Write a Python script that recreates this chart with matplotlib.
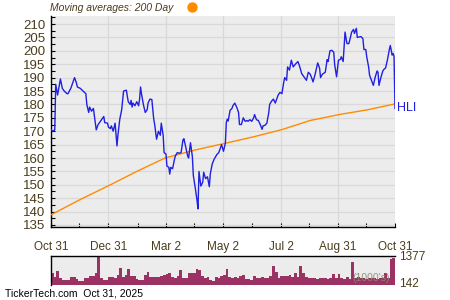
import matplotlib
matplotlib.use("Agg")
import matplotlib.pyplot as plt
import numpy as np
import pandas as pd
from matplotlib.lines import Line2D
from matplotlib.ticker import MultipleLocator

START = pd.Timestamp("2024-10-31")
END = pd.Timestamp("2025-10-31")

# closing price (days after 2024-10-31, price)
PRICE_DAY = [0, 2, 4, 5, 7, 10, 12, 14, 17, 18, 21, 23, 25, 27, 28, 31, 34, 37, 38, 40,
             41, 43, 45, 48, 50, 54, 56, 57, 60, 61, 63, 64, 66, 68, 70, 71, 73, 75, 76, 77,
             80, 81, 82, 84, 85, 86, 87, 89, 91, 93, 94, 95, 96, 98, 100, 102, 103, 105, 107, 109,
             110, 112, 114, 116, 117, 119, 120, 122, 123, 125, 126, 127, 129, 131, 132, 134, 136, 138, 140, 141,
             143, 145, 146, 148, 150, 151, 153, 155, 156, 157, 159, 161, 162, 164, 166, 168, 169, 171, 173, 175,
             176, 178, 179, 181, 183, 185, 186, 187, 188, 190, 192, 193, 195, 197, 199, 200, 202, 204, 206, 208,
             209, 211, 213, 215, 216, 218, 220, 222, 224, 225, 227, 229, 231, 232, 234, 236, 238, 239, 241, 243,
             245, 247, 248, 250, 251, 253, 255, 257, 260, 262, 264, 266, 268, 271, 273, 275, 277, 278, 280, 283,
             285, 286, 288, 291, 293, 294, 296, 298, 300, 301, 303, 305, 307, 308, 310, 312, 314, 316, 317, 319,
             321, 322, 324, 325, 327, 329, 331, 332, 334, 335, 337, 338, 340, 342, 344, 346, 347, 348, 350, 352,
             353, 355, 357, 359, 360, 362, 363, 364, 365]
PRICE = [170.5, 170.0, 170.5, 187.5, 183.5, 189.5, 186.0, 185.0, 184.0, 184.0, 186.0, 188.0, 190.0, 188.0, 186.5, 186.0, 185.0, 184.0, 180.0, 177.0,
         179.0, 177.5, 178.5, 170.5, 172.5, 174.5, 175.5, 173.2, 173.0, 171.5, 171.0, 172.0, 170.0, 173.0, 164.5, 168.5, 174.5, 178.0, 181.5, 185.0,
         185.3, 183.0, 181.0, 180.0, 181.5, 179.0, 180.5, 179.5, 181.0, 179.5, 182.0, 186.5, 184.0, 180.0, 177.0, 178.0, 180.5, 182.0, 181.8, 174.5,
         172.5, 167.0, 170.0, 168.5, 173.0, 168.5, 162.0, 161.5, 157.0, 156.5, 154.0, 156.5, 156.0, 159.5, 160.8, 162.0, 161.8, 162.0, 166.7, 167.2,
         164.0, 160.8, 160.0, 165.7, 160.5, 153.5, 149.0, 144.0, 141.0, 155.0, 149.5, 151.0, 154.7, 152.3, 153.0, 149.3, 154.0, 157.7, 159.5, 160.7,
         161.3, 162.0, 163.0, 165.0, 162.5, 165.5, 173.2, 174.5, 173.8, 177.8, 178.5, 179.5, 180.5, 179.0, 177.0, 172.5, 172.5, 175.0, 173.7, 174.0,
         173.7, 174.3, 173.7, 175.0, 176.2, 174.3, 174.0, 172.5, 170.7, 172.0, 172.2, 173.0, 176.8, 180.0, 181.2, 182.0, 180.5, 181.5, 183.5, 184.5,
         184.0, 188.4, 190.0, 189.0, 194.0, 192.8, 196.5, 194.0, 195.3, 196.0, 194.0, 191.5, 190.5, 189.0, 192.0, 191.3, 189.5, 188.4, 190.9, 195.5,
         193.5, 190.0, 191.3, 192.0, 196.7, 196.0, 200.0, 200.2, 199.5, 194.8, 190.3, 196.5, 196.8, 197.8, 196.0, 207.0, 202.7, 202.7, 204.0, 207.0,
         208.0, 206.5, 208.4, 205.0, 205.2, 205.3, 204.5, 200.5, 200.5, 197.8, 194.0, 190.9, 189.0, 187.1, 190.2, 192.5, 192.0, 187.1, 190.0, 192.4,
         193.0, 193.6, 196.7, 200.5, 202.0, 198.4, 199.0, 198.0, 178.5]

# 200-day moving average
MA_DAY = [0, 31, 63, 91, 121, 153, 185, 216, 245, 275, 307, 336, 365]
MA = [138.8, 144.5, 150.0, 155.0, 160.0, 163.0, 165.5, 168.0, 170.6, 174.0, 176.3, 178.0, 180.2]

# volume in thousands, two-session buckets across the year
VOLUME = [550, 390, 670, 310, 250, 235, 235, 390, 390, 280, 190, 190, 345, 345, 420, 420, 550, 1377, 345, 235,
          235, 390, 390, 310, 470, 810, 390, 470, 750, 440, 440, 280, 235, 235, 470, 600, 390, 390, 390, 390,
          420, 470, 500, 590, 390, 310, 440, 700, 310, 310, 590, 550, 550, 780, 700, 440, 310, 390, 235, 190,
          390, 310, 440, 470, 780, 390, 310, 390, 310, 440, 470, 280, 280, 235, 440, 310, 310, 390, 310, 310,
          440, 900, 625, 310, 440, 440, 440, 470, 400, 550, 400, 880, 570, 400, 350, 320, 350, 300, 350, 320,
          350, 300, 350, 500, 350, 520, 350, 300, 400, 300, 1085, 350, 400, 320, 350, 300, 350, 320, 350, 300,
          350, 320, 570, 350, 1215, 1300]

TICK_DATES = ["2024-10-31", "2024-12-31", "2025-03-02", "2025-05-02", "2025-07-02", "2025-08-31", "2025-10-31"]
TICK_LABELS = ["Oct 31", "Dec 31", "Mar 2", "May 2", "Jul 2", "Aug 31", "Oct 31"]
MINOR_DATES = ["2024-11-30", "2025-01-31", "2025-04-01", "2025-06-01", "2025-08-01", "2025-09-30"]

TXT = "#4a3c1c"
BG = "#ececec"
GRID = "#d9d9d9"
BLUE = "#2020e0"
ORANGE = "#ff8c00"

plt.rcParams["font.family"] = ["Liberation Sans", "DejaVu Sans"]

fig = plt.figure(figsize=(4.5, 3.0), dpi=100)
ax = fig.add_axes([51 / 450, 1 - 227 / 300, 344 / 450, 211 / 300])
ax.set_facecolor(BG)

pdates = START + pd.to_timedelta(PRICE_DAY, unit="D")
ma_dates = START + pd.to_timedelta(MA_DAY, unit="D")
ax.plot(ma_dates, MA, color=ORANGE, lw=1.0, zorder=3)
ax.plot(pdates, PRICE, color=BLUE, lw=1.0, zorder=4)
ax.set_xlim(START, END)
ax.set_ylim(134.25, 213)

ax.yaxis.set_major_locator(MultipleLocator(5))
ax.yaxis.set_minor_locator(MultipleLocator(2.5))
ax.set_xticks(pd.to_datetime(TICK_DATES))
ax.set_xticklabels(TICK_LABELS)
ax.set_xticks(pd.to_datetime(MINOR_DATES), minor=True)
ax.grid(True, which="major", color=GRID, lw=0.9, zorder=0)
ax.set_axisbelow(True)
ax.tick_params(axis="both", which="both", direction="in", colors="black",
               labelcolor=TXT, length=3, width=0.8)
ax.tick_params(axis="y", labelsize=9.5, pad=4)
ax.tick_params(axis="x", labelsize=8.5, pad=10)
for s in ["top", "right"]:
    ax.spines[s].set_visible(False)
for s in ["left", "bottom"]:
    ax.spines[s].set_color("black")
    ax.spines[s].set_linewidth(1.0)

ax.text(1.005, 178.7, "HLI", transform=ax.get_yaxis_transform(), color=BLUE,
        fontsize=9, va="center", ha="left")

fig.text(50 / 450, 1 - 8 / 300, "Moving averages: 200 Day", style="italic", color=TXT,
         fontsize=7.5, va="center", ha="left")
fig.add_artist(Line2D([192 / 450], [1 - 7 / 300], transform=fig.transFigure, marker="o",
                      markersize=6.5, color=ORANGE, lw=0))

# volume panel
vax = fig.add_axes([51 / 450, 1 - 285 / 300, 344 / 450, 29 / 300])
vax.set_facecolor(BG)
n = len(VOLUME)
vdates = START + pd.to_timedelta(np.arange(n) * 365.0 / n, unit="D")
vax.bar(vdates, VOLUME, width=365.0 / n, align="edge", color="#9b3263", lw=0)
vax.set_xlim(START, END)
vax.set_ylim(0, 1377)
vax.set_xticks([])
vax.yaxis.tick_right()
vax.set_yticks([142, 1377])
vax.set_yticklabels(["142", "1377"])
vax.tick_params(axis="y", length=0, labelcolor=TXT, labelsize=8.5, pad=3)
for s in ["right", "bottom"]:
    vax.spines[s].set_visible(False)
for s in ["left", "top"]:
    vax.spines[s].set_color("black")
    vax.spines[s].set_linewidth(1.0)
vax.text(0.985, 0.06, "(1000's)", transform=vax.transAxes, ha="right", va="bottom",
         fontsize=7.5, color="#8a8a70", alpha=0.9)

fig.text(5 / 450, 1 - 294 / 300, "TickerTech.com  Oct 31, 2025", fontsize=7.5,
         color="black", va="center", ha="left")

fig.savefig("out.png", dpi=100)
